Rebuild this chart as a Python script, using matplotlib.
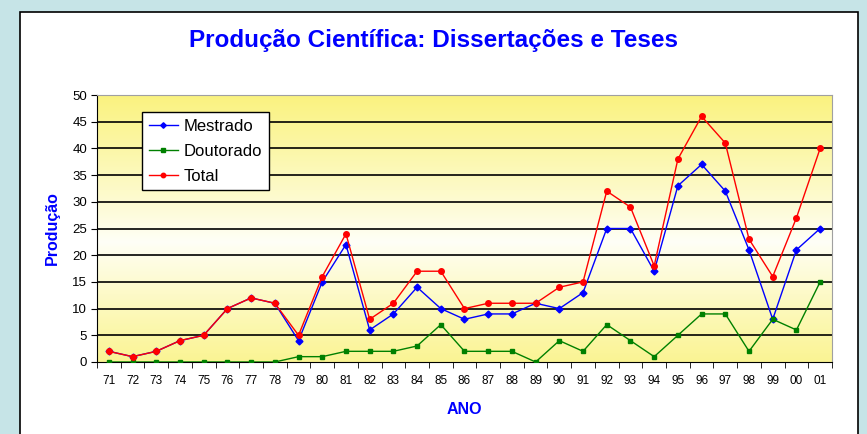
import numpy as np
import matplotlib.pyplot as plt
from matplotlib.patches import Rectangle

plt.rcParams['font.family'] = ['Liberation Sans', 'DejaVu Sans']

anos = ['71', '72', '73', '74', '75', '76', '77', '78', '79', '80', '81', '82', '83', '84', '85', '86',
        '87', '88', '89', '90', '91', '92', '93', '94', '95', '96', '97', '98', '99', '00', '01']
mestrado = [2, 1, 2, 4, 5, 10, 12, 11, 4, 15, 22, 6, 9, 14, 10, 8, 9, 9, 11, 10, 13, 25, 25, 17, 33, 37, 32, 21, 8, 21, 25]
doutorado = [0, 0, 0, 0, 0, 0, 0, 0, 1, 1, 2, 2, 2, 3, 7, 2, 2, 2, 0, 4, 2, 7, 4, 1, 5, 9, 9, 2, 8, 6, 15]
total = [2, 1, 2, 4, 5, 10, 12, 11, 5, 16, 24, 8, 11, 17, 17, 10, 11, 11, 11, 14, 15, 32, 29, 18, 38, 46, 41, 23, 16, 27, 40]

fig = plt.figure(figsize=(8.67, 4.34), dpi=100)
fig.patch.set_facecolor('#c6e4e7')

# painel branco com borda
fig.patches.append(Rectangle((20 / 867, -0.05), 838 / 867, 1 - 12 / 434 + 0.05, transform=fig.transFigure,
                             facecolor='white', edgecolor='black', lw=1.2, zorder=-10))

ax = fig.add_axes([97 / 867, 1 - 362 / 434, 735 / 867, 267 / 434])
ax.set_zorder(1)
x = np.arange(1, len(anos) + 1)

# fundo amarelo em degradê
t = np.linspace(0, 1, 200)
g = np.abs(t - 0.45) / 0.55
g = np.clip(g, 0, 1) ** 0.9
amarelo = np.array([0.98, 0.95, 0.50])
branco = np.array([1.0, 1.0, 0.97])
cores = branco[None, :] * (1 - g[:, None]) + amarelo[None, :] * g[:, None]
ax.imshow(cores[:, None, :], extent=[0.5, len(anos) + 0.5, 0, 50], aspect='auto', origin='lower', zorder=0)

for yv in range(5, 50, 5):
    ax.axhline(yv, color='black', lw=1.2, zorder=1)

ax.plot(x, mestrado, color='#0000ff', marker='D', ms=3.5, lw=1, label='Mestrado', zorder=3)
ax.plot(x, doutorado, color='#008000', marker='s', ms=3.5, lw=1, label='Doutorado', zorder=3)
ax.plot(x, total, color='#ff0000', marker='o', ms=4, lw=1, label='Total', zorder=4)

ax.set_xlim(0.5, len(anos) + 0.5)
ax.set_ylim(0, 50)
ax.set_yticks(range(0, 51, 5))
ax.set_xticks(x)
ax.set_xticklabels(anos)
ax.set_xticks(np.arange(0.5, len(anos) + 1), minor=True)
ax.tick_params(axis='x', which='major', length=0, labelsize=8.5, pad=9)
ax.tick_params(axis='x', which='minor', length=4, direction='out')
ax.tick_params(axis='y', labelsize=9.5, length=4, direction='out', pad=3)

for s in ['top', 'right']:
    ax.spines[s].set_color('#a0a0a0')
ax.spines['left'].set_color('black')
ax.spines['bottom'].set_color('black')

ax.set_xlabel('ANO', color='#0000ff', fontweight='bold', fontsize=11.5, labelpad=11)
ax.set_ylabel('Produção', color='#0000ff', fontweight='bold', fontsize=11.5, labelpad=9)

leg = ax.legend(loc='upper left', bbox_to_anchor=(45 / 735, 250 / 267), borderaxespad=0, fontsize=12,
                frameon=True, fancybox=False, edgecolor='black', framealpha=1, borderpad=0.4,
                labelspacing=0.6, handlelength=1.75, handletextpad=0.35, markerscale=0.8)
leg.get_frame().set_linewidth(1)

fig.text(0.5, 1 - 41 / 434, 'Produção Científica: Dissertações e Teses', ha='center', va='center',
         color='#0000ff', fontweight='bold', fontsize=17.5)

plt.savefig('out.png', dpi=100, facecolor=fig.get_facecolor())
